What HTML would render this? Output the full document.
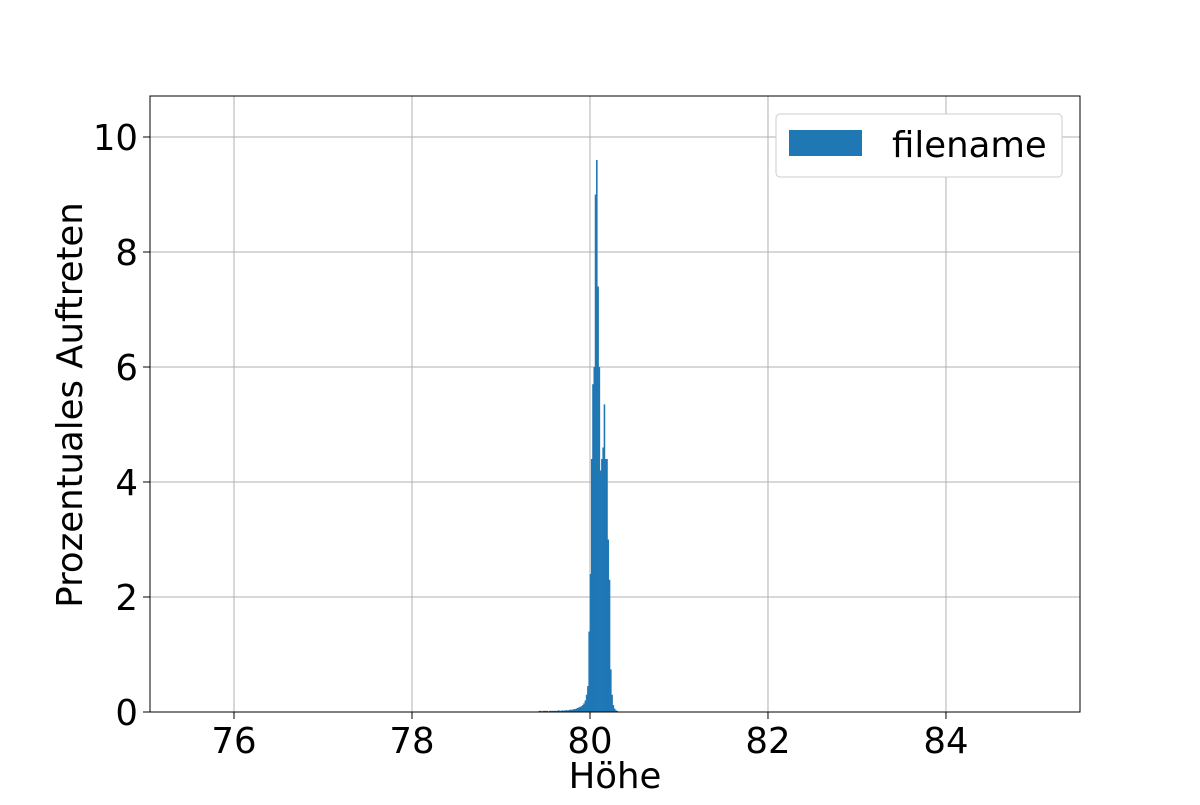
<!DOCTYPE html>
<html><head><meta charset="utf-8"><style>
body{margin:0;background:#fff}
svg text{font-family:"DejaVu Sans","Liberation Sans",sans-serif;fill:#000}
</style></head><body>
<svg id="chart" width="1200" height="800" xmlns="http://www.w3.org/2000/svg">
<rect width="1200" height="800" fill="#fff"/>
<g id="grid"></g>
<g id="bars"></g>
<rect x="150" y="96" width="930" height="616" fill="none" stroke="#000" stroke-width="1"/>
<g id="ticks"></g>
<text x="615" y="788" font-size="35.5" text-anchor="middle">Höhe</text>
<text x="82" y="405" font-size="35.5" text-anchor="middle" transform="rotate(-90 82 405)">Prozentuales Auftreten</text>
<g>
<rect x="776" y="114" width="286" height="63" rx="4" fill="#fff" stroke="#ccc"/>
<rect x="789" y="130" width="73" height="26" fill="#1f77b4"/>
<text x="892" y="157" font-size="35.5">filename</text>
</g>
</svg>
<script>
const xTicks=[76,78,80,82,84];
const yTicks=[0,2,4,6,8,10];
const binStart=79.41;
const binWidth=0.0143;
const values=[0.01,0.02,0.02,0.01,0.02,0.02,0.02,0.02,0.01,0.02,0.02,0.02,0.02,0.02,0.02,0.02,0.03,0.02,0.02,0.03,0.02,0.03,0.03,0.03,0.03,0.04,0.04,0.04,0.05,0.05,0.06,0.07,0.08,0.09,0.10,0.12,0.15,0.2,0.3,0.45,
1.4,2.4,4.4,5.7,6.0,9.0,9.6,7.4,6.0,4.2,4.4,4.6,5.35,4.4,4.4,3.0,2.3,0.74,0.3,0.12,0.06,0.03,0.02];
const X0=150,X1=1080,Y0=712,Y1=96,xmin=75.056,xmax=85.506,ymin=0,ymax=10.713;
const sx=v=>X0+(v-xmin)/(xmax-xmin)*(X1-X0);
const sy=v=>Y0-(v-ymin)/(ymax-ymin)*(Y0-Y1);
const NS="http://www.w3.org/2000/svg";
const grid=document.getElementById('grid'),bars=document.getElementById('bars'),ticks=document.getElementById('ticks');
function mk(tag,attrs,parent){const e=document.createElementNS(NS,tag);for(const k in attrs)e.setAttribute(k,attrs[k]);parent.appendChild(e);return e;}
xTicks.forEach(t=>{
  const g=mk('line',{x1:sx(t),x2:sx(t),y1:Y1,y2:Y0,stroke:'#b0b0b0','stroke-width':1},grid);
  
  
  const tk=mk('line',{x1:sx(t),x2:sx(t),y1:Y0,y2:Y0+7,stroke:'#000','stroke-width':1},ticks);
  
  
  const lb=mk('text',{x:sx(t),y:Y0+41,'font-size':35.5,'text-anchor':'middle'},ticks);
  lb.textContent=t;
  
  
});
yTicks.forEach(t=>{
  const g=mk('line',{x1:X0,x2:X1,y1:sy(t),y2:sy(t),stroke:'#b0b0b0','stroke-width':1},grid);
  
  
  const tk=mk('line',{x1:X0-7,x2:X0,y1:sy(t),y2:sy(t),stroke:'#000','stroke-width':1},ticks);
  
  
  const lb=mk('text',{x:X0-12,y:sy(t)+13,'font-size':35.5,'text-anchor':'end'},ticks);
  lb.textContent=t;
  
  
});
values.forEach((v,i)=>{
  const a=binStart+i*binWidth,b=a+binWidth;
  const r=mk('rect',{x:sx(a),y:sy(v),width:Math.max(sx(b)-sx(a),0.6)+0.3,height:sy(0)-sy(v),fill:'#1f77b4'},bars);
  
  
});
</script>
</body></html>
